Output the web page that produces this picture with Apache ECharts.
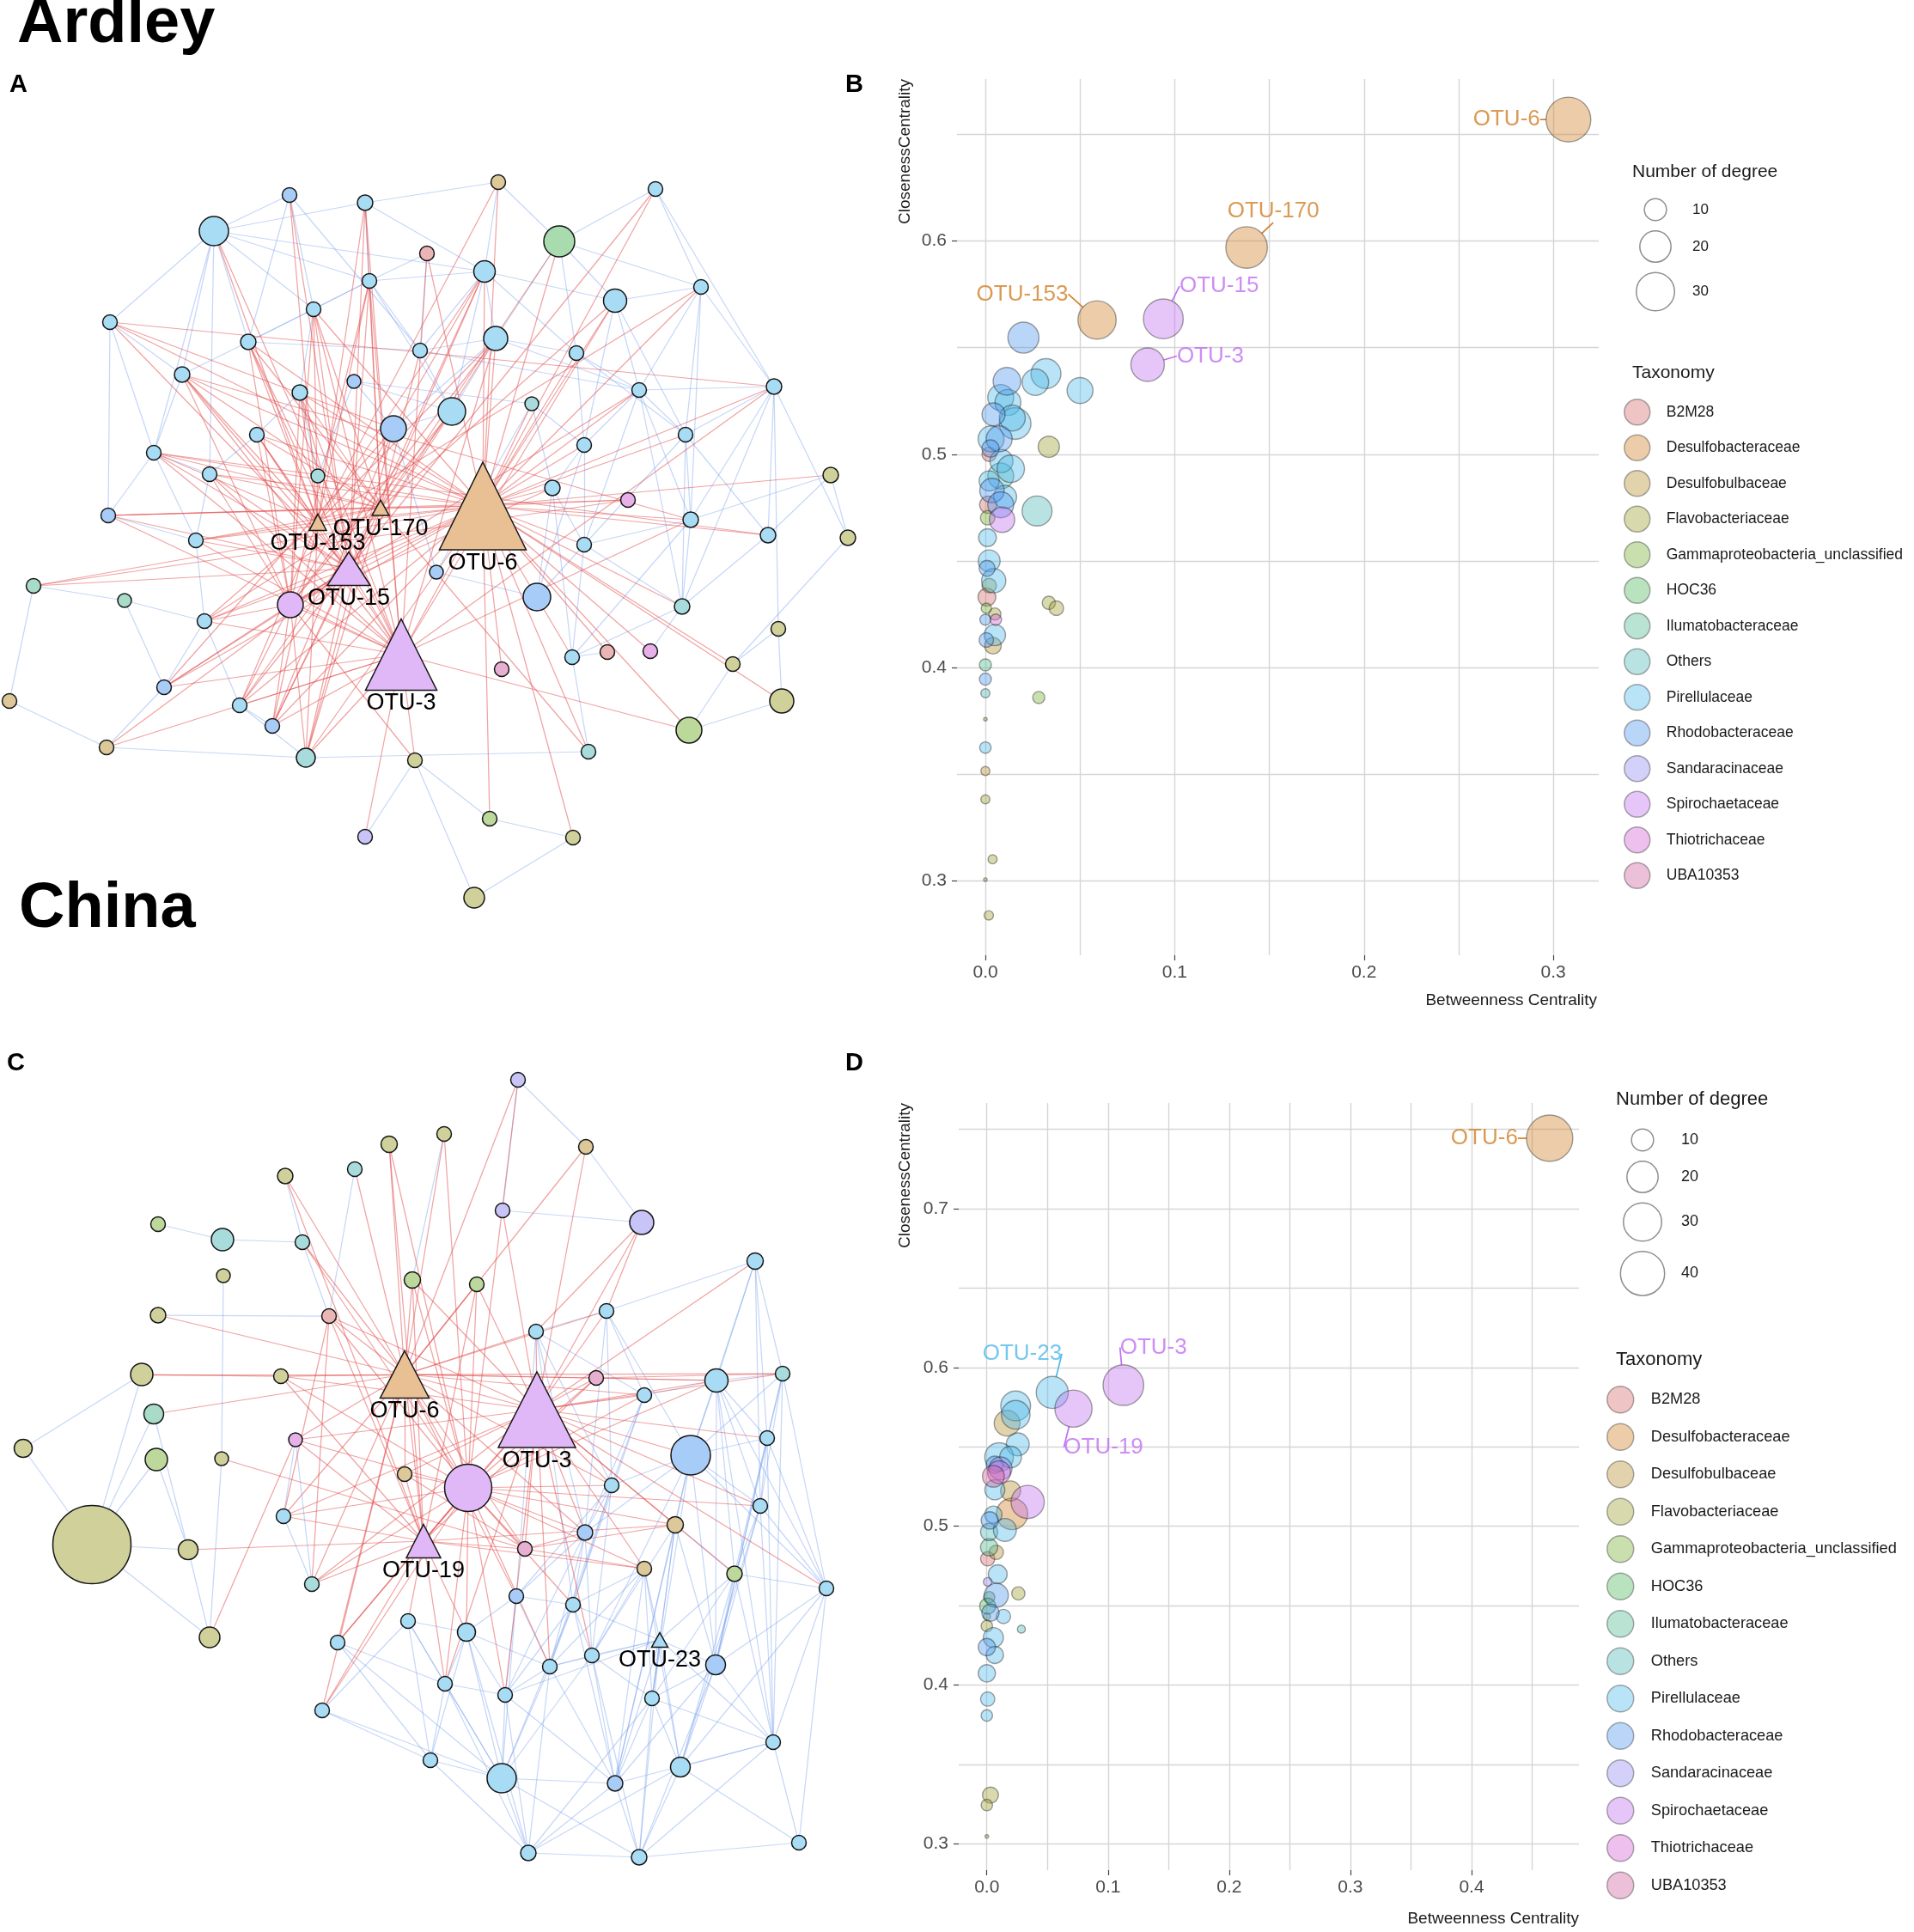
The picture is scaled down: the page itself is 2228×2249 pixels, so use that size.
<!DOCTYPE html>
<html>
<head>
<meta charset="utf-8">
<title>Ardley / China co-occurrence networks</title>
<script src="https://cdn.jsdelivr.net/npm/echarts@6/dist/echarts.min.js"></script>
<style>
  html, body { margin: 0; padding: 0; background: #fff; }
  #chart { width: 2228px; height: 2249px; }
</style>
</head>
<body>
<div id="chart"></div>
<script>
const FONT = 'Liberation Sans, Arial, Helvetica, sans-serif'

// taxonomy levels and their base colours
const taxa = ['B2M28', 'Desulfobacteraceae', 'Desulfobulbaceae', 'Flavobacteriaceae',
  'Gammaproteobacteria_unclassified', 'HOC36', 'Ilumatobacteraceae', 'Others', 'Pirellulaceae',
  'Rhodobacteraceae', 'Sandaracinaceae', 'Spirochaetaceae', 'Thiotrichaceae', 'UBA10353']
const taxaBase = ['#D76B6B', '#D18129', '#B99131', '#A1A135', '#79B135', '#51B95D', '#51B991',
  '#51B9B9', '#51B9E9', '#5199F1', '#9189F1', '#C171F1', '#D161D1', '#D161A1']

// ---- network A (Ardley): layout positions, node sizes, taxonomy ----
const aNodeX = [580, 763, 337, 425, 249, 651, 497, 564, 430, 816, 716, 365, 128, 289, 577, 489, 671, 212, 412, 349,
  744, 901, 619, 526, 458, 299, 798, 179, 680, 244, 370, 967, 643, 731, 126, 804, 894, 987, 228, 680,
  508, 39, 145, 338, 625, 794, 238, 906, 666, 707, 757, 853, 584, 191, 11, 910, 279, 317, 802, 124,
  356, 483, 685, 570, 425, 667, 552]
const aNodeY = [212, 220, 227, 236, 269, 281, 295, 316, 327, 334, 350, 360, 375, 398, 394, 408, 411, 436, 444, 457,
  454, 450, 470, 479, 499, 506, 506, 527, 518, 552, 554, 553, 568, 582, 600, 605, 623, 626, 629, 634,
  666, 682, 699, 704, 695, 706, 723, 732, 765, 759, 758, 773, 779, 800, 816, 816, 821, 845, 850, 870,
  882, 885, 875, 953, 974, 975, 1045]
const aNodeSize = [17, 17, 17, 18, 34, 36, 17, 25, 17, 17, 27, 17, 17, 18, 28, 17, 17, 18, 16, 18,
  17, 18, 16, 32, 30, 17, 17, 17, 17, 17, 16, 18, 18, 17, 17, 18, 18, 18, 17, 17,
  16, 17, 16, 30, 32, 18, 17, 17, 17, 17, 17, 17, 17, 17, 17, 28, 17, 17, 30, 17,
  22, 17, 17, 17, 17, 17, 24]
const aNodeTaxon = [2, 8, 9, 8, 8, 5, 0, 8, 8, 8, 8, 8, 8, 8, 8, 8, 8, 8, 9, 8,
  8, 8, 7, 8, 9, 8, 8, 8, 8, 8, 7, 3, 8, 12, 9, 8, 8, 3, 8, 8,
  9, 6, 6, 11, 9, 7, 8, 3, 8, 0, 12, 3, 13, 9, 2, 3, 8, 9, 4, 2,
  7, 3, 7, 4, 10, 3, 3]
const aHubName = ['OTU-6', 'OTU-170', 'OTU-153', 'OTU-15', 'OTU-3']
const aHubX = [562, 443, 370, 406, 467]
const aHubY = [589, 591, 608, 662, 762]
const aHubW = [101, 20, 20, 50, 83]
const aHubH = [102, 18, 19, 39, 83]
const aHubTaxon = [1, 1, 1, 11, 11]
// positive (red) edges as stars: [centre, neighbours]
const aRedStars = [
  ['OTU-6', [1, 2, 6, 7, 8, 10, 11, 12, 13, 14, 15, 17, 18, 20, 21, 22, 23, 26, 27, 28, 29, 30, 32, 33, 34, 35, 36, 37, 39, 40,
    42, 44, 46, 47, 49, 50, 51, 52, 53, 54, 56, 57, 58, 59, 61, 63, 64, 66]],
  ['OTU-3', [4, 5, 7, 9, 11, 12, 14, 15, 18, 20, 22, 26, 28, 30, 35, 36, 39, 47, 54, 57, 58, 59, 60, 61, 62, 65]],
  ['OTU-15', [2, 3, 4, 8, 9, 12, 13, 14, 15, 18, 20, 24, 26, 28, 30, 35, 39, 42, 47, 54, 57, 58, 60, 61]],
  ['OTU-170', [4, 6, 8, 9, 11, 12, 14, 16, 18, 20, 24, 26, 28, 30, 35, 39, 47, 57, 58, 61, 63]],
  ['OTU-153', [1, 3, 4, 5, 8, 9, 10, 12, 14, 15, 18, 20, 26, 28, 39, 47, 57, 58, 61]],
  [44, [8, 9, 12, 14, 15, 18, 20, 21, 24, 26, 30, 33, 47, 54, 57, 58, 61, 62]],
  [25, [54, 58, 61, 13]]
]
const aRedPairs = [['OTU-6', 'OTU-3'], ['OTU-6', 'OTU-15'], ['OTU-6', 'OTU-170'], ['OTU-6', 'OTU-153'],
  ['OTU-3', 'OTU-15'], ['OTU-170', 'OTU-153'], ['OTU-15', 44], ['OTU-3', 44],
  [35, 34], [42, 34], [28, 37], [18, 36], [13, 22]]
const aBlueStars = []
const aBluePairs = [[5, 13], [5, 14], [5, 9], [5, 8], [5, 28], [5, 30], [5, 18], [5, 4], [5, 12], [4, 9], [4, 8], [4, 1],
  [3, 12], [3, 16], [3, 5], [3, 14], [1, 6], [1, 8], [2, 6], [2, 10], [6, 11], [6, 10], [6, 17], [6, 15], [7, 9], [7, 16],
  [8, 9], [8, 15], [8, 16], [8, 17], [8, 11], [8, 24], [9, 16], [9, 12], [9, 14], [9, 24], [12, 14], [12, 20],
  [14, 18], [14, 16], [15, 16], [15, 17], [15, 21], [15, 24], [15, 25], [16, 21], [16, 24], [17, 21], [17, 29], [17, 27],
  [11, 21], [11, 27], [11, 29], [11, 10], [10, 21], [10, 22], [10, 27], [21, 27], [21, 22], [21, 36], [21, 40], [21, 46],
  [22, 27], [22, 37], [22, 36], [22, 46], [27, 40], [27, 37], [27, 46], [27, 36], [29, 33], [29, 40], [29, 21], [33, 40],
  [33, 23], [23, 29], [36, 40], [40, 46], [37, 46], [36, 46], [40, 49], [33, 49], [36, 49], [46, 49], [32, 38], [38, 22],
  [38, 52], [52, 48], [52, 59], [59, 56], [48, 56], [32, 37], [32, 36], [13, 18], [13, 28], [13, 35], [18, 28], [28, 39],
  [28, 35], [28, 30], [30, 39], [35, 39], [39, 47], [47, 54], [47, 57], [54, 60], [60, 55], [55, 42], [42, 43], [43, 47],
  [43, 54], [60, 61], [61, 63], [57, 61], [57, 58], [62, 67], [67, 66], [64, 66], [62, 64], [62, 65], [63, 49], [50, 49],
  [51, 46], [23, 19], [19, 24], [25, 19], [26, 30], [26, 20], [20, 31], [31, 19], [41, 45], [41, 23], [45, 29], [45, 33],
  [45, 40], [25, 24], [25, 41], [2, 22], [10, 36], [22, 48]]

// ---- network C (China) ----
const cNodeX = [603, 453, 517, 682, 332, 413, 184, 259, 352, 585, 747, 260, 480, 555, 879, 184, 383, 706, 624, 165,
  327, 694, 750, 834, 911, 179, 27, 182, 258, 344, 471, 545, 804, 893, 712, 885, 330, 107, 219, 681,
  611, 786, 750, 855, 363, 962, 601, 667, 244, 475, 543, 393, 689, 640, 833, 518, 588, 759, 375, 900,
  501, 584, 716, 792, 615, 744, 930]
const cNodeY = [1257, 1332, 1320, 1335, 1369, 1361, 1425, 1443, 1446, 1409, 1423, 1485, 1490, 1495, 1468, 1531, 1532, 1526, 1550, 1600,
  1602, 1604, 1624, 1607, 1599, 1646, 1686, 1699, 1698, 1676, 1716, 1732, 1694, 1674, 1729, 1753, 1765, 1798, 1804, 1784,
  1803, 1775, 1826, 1832, 1844, 1849, 1858, 1868, 1906, 1887, 1900, 1912, 1927, 1940, 1938, 1960, 1973, 1977, 1991, 2028,
  2049, 2070, 2076, 2057, 2157, 2162, 2145]
const cNodeSize = [17, 19, 17, 17, 18, 17, 17, 26, 17, 17, 28, 16, 19, 17, 19, 18, 17, 17, 17, 26,
  17, 17, 17, 27, 17, 23, 21, 26, 16, 16, 17, 55, 46, 17, 17, 17, 17, 91, 23, 18,
  17, 19, 17, 18, 17, 17, 17, 17, 24, 17, 21, 17, 17, 17, 23, 17, 17, 17, 17, 17,
  17, 34, 18, 23, 18, 18, 17]
const cNodeTaxon = [10, 3, 3, 2, 3, 7, 4, 7, 7, 10, 10, 3, 4, 4, 8, 3, 0, 8, 8, 3,
  3, 13, 8, 8, 7, 6, 3, 4, 3, 12, 2, 11, 9, 8, 8, 8, 8, 3, 3, 9,
  13, 2, 2, 4, 7, 8, 9, 8, 3, 8, 8, 8, 8, 8, 9, 8, 8, 8, 8, 8,
  8, 8, 9, 8, 8, 8, 8]
const cHubName = ['OTU-6', 'OTU-3', 'OTU-19', 'OTU-23']
const cHubX = [471, 625, 493, 768]
const cHubY = [1600, 1641, 1794, 1909]
const cHubW = [57, 90, 40, 19]
const cHubH = [55, 88, 39, 17]
const cHubTaxon = [1, 11, 11, 8]
const cRedStars = [
  ['OTU-6', [1, 2, 3, 4, 5, 6, 9, 13, 14, 16, 17, 18, 19, 20, 21, 22, 23, 24, 25, 26, 30, 31, 35, 37, 40, 41, 45, 47, 52, 59]],
  ['OTU-3', [4, 10, 11, 13, 14, 15, 17, 18, 19, 21, 22, 23, 24, 25, 30, 31, 33, 34, 35, 36, 37, 40, 41, 42, 43, 44, 45, 46, 53, 54, 56, 57]],
  ['OTU-19', [2, 5, 13, 14, 17, 21, 22, 30, 31, 37, 39, 41, 42, 43, 45, 50, 51, 52, 56, 59]],
  [32, [1, 2, 3, 9, 13, 14, 17, 21, 22, 23, 24, 30, 31, 35, 36, 37, 40, 41, 42, 43, 45, 48, 51, 52, 54, 56, 57, 59]],
  [41, [29, 31, 42, 43, 40]],
  [11, [18, 19]],
  [22, [24, 25]],
  [17, [37, 45]],
  [49, [30]],
  [20, [21]]
]
const cRedPairs = [['OTU-6', 'OTU-3'], ['OTU-6', 32], ['OTU-3', 32], ['OTU-19', 32], ['OTU-6', 'OTU-19'], ['OTU-3', 'OTU-19']]
const cBlueStars = [['OTU-23', [42, 43, 44, 48, 53, 54, 55, 57, 58, 60, 63, 64, 66]]]
const cBluePairs = [[38, 27], [38, 20], [38, 26], [38, 28], [38, 39], [38, 49], [27, 20], [7, 8], [12, 29], [29, 49],
  [16, 17], [26, 39], [28, 39], [39, 49], [1, 10], [1, 4], [4, 11], [10, 11], [3, 13], [6, 17], [9, 17], [30, 45],
  [5, 9], [8, 9], [24, 33], [24, 25], [24, 34], [24, 23], [24, 15], [25, 33], [25, 34], [25, 46], [25, 36], [15, 25],
  [15, 18], [18, 23], [18, 33], [18, 35], [19, 35], [33, 35], [33, 36], [33, 40], [33, 42], [33, 46], [33, 55], [33, 58],
  [34, 46], [34, 36], [36, 46], [36, 55], [46, 55], [46, 60], [46, 44], [42, 53], [42, 58], [42, 55], [43, 58], [43, 53],
  [40, 48], [40, 53], [40, 47], [47, 54], [47, 51], [48, 54], [48, 53], [50, 56], [50, 61], [51, 56], [51, 57], [51, 62],
  [52, 56], [53, 54], [54, 57], [54, 62], [55, 60], [55, 64], [56, 62], [56, 61], [57, 62], [57, 63], [58, 63], [58, 64],
  [58, 60], [59, 61], [60, 64], [60, 67], [61, 62], [61, 65], [62, 65], [62, 63], [62, 66], [63, 65], [63, 66], [64, 66],
  [65, 66], [66, 67], [64, 67], [62, 48], [62, 53], [63, 53], [65, 57], [66, 58], [59, 50], [35, 40], [35, 48], [44, 55],
  [44, 60], [36, 60], [50, 51], [51, 54], [56, 57], [47, 48], [19, 23], [23, 35], [18, 19], [52, 61], [37, 45], [30, 37],
  [15, 34], [15, 33], [34, 33], [19, 40], [35, 47], [42, 44], [43, 48],
  [15, 36], [24, 36], [24, 46], [24, 55], [24, 60], [24, 44], [25, 55], [25, 60], [34, 55], [34, 60], [34, 44], [36, 44],
  [36, 64], [46, 64], [46, 67], [44, 64], [44, 58], [55, 58], [55, 63], [55, 66], [60, 66], [60, 63], [64, 65], [58, 65],
  [53, 58], [53, 66], [54, 63], [54, 65], [48, 57], [48, 63], [47, 57], [47, 62], [50, 62], [51, 61], [51, 65], [52, 62],
  [56, 65], [59, 62], [40, 54], [40, 57], [35, 53], [35, 54], [23, 40], [23, 48], [19, 47], [19, 48], [18, 40], [33, 53],
  [33, 63], [42, 63], [43, 63], [43, 64], [43, 54]]

// ---- scatter B (Ardley centrality) ----
const bBetween = [0.308, 0.138, 0.059, 0.094, 0.0857, 0.0201, 0.032, 0.0264, 0.0114, 0.050,
  0.0081, 0.0119, 0.0043, 0.0157, 0.0142, 0.003, 0.0073, 0.002, 0.0027, 0.0085,
  0.0134, 0.0081, 0.002, 0.0035, 0.0104, 0.0081, 0.0015, 0.0012, 0.0088, 0.0273,
  0.0335, 0.0011, 0.002, 0.0009, 0.0044, 0.002, 0.0008, 0.0005, 0.005, 0.0055,
  0.0, 0.005, 0.0005, 0.004, 0.0335, 0.0375, 0.0, 0.0, 0.0, 0.0282,
  0.0, 0.0, 0.0, 0.0, 0.0038, 0.0, 0.0018]
const bCloseness = [0.657, 0.597, 0.563, 0.5635, 0.542, 0.5547, 0.5378, 0.5338, 0.5342, 0.5299,
  0.5266, 0.5243, 0.5187, 0.5144, 0.517, 0.5072, 0.5072, 0.500, 0.5027, 0.4968,
  0.4932, 0.4898, 0.4875, 0.483, 0.480, 0.4763, 0.4763, 0.4702, 0.4693, 0.4734,
  0.5035, 0.4609, 0.450, 0.4465, 0.4407, 0.4384, 0.433, 0.4278, 0.4251, 0.4224,
  0.4224, 0.4152, 0.4129, 0.4102, 0.4303, 0.4278, 0.4012, 0.3945, 0.3879, 0.3859,
  0.3757, 0.3624, 0.3514, 0.3381, 0.310, 0.3005, 0.2837]
const bDegree = [41, 35.5, 30, 32.5, 23, 19.8, 18.4, 14.4, 15.7, 13.8,
  13.8, 13.8, 10.9, 20.6, 13.8, 13.8, 13.8, 4.3, 6.1, 10.9,
  15.4, 13.8, 8.3, 12.3, 10.9, 13.8, 6.1, 4.3, 13.2, 18.4,
  9.3, 6.5, 9.8, 5.2, 12, 4.3, 6.5, 2.2, 3, 2.7,
  2.5, 9.3, 4.3, 5.7, 3.6, 4.3, 3, 3, 1.7, 3,
  0.25, 2.7, 1.7, 1.7, 1.7, 0.25, 1.8]
const bTaxon = [1, 1, 1, 11, 11, 9, 8, 8, 9, 8, 8, 8, 9, 8, 8, 8, 9, 0, 9, 8,
  8, 7, 8, 9, 8, 9, 0, 4, 11, 7, 3, 8, 8, 9, 8, 3, 0, 4, 3, 12,
  9, 8, 9, 2, 3, 3, 6, 9, 7, 4, 3, 8, 2, 3, 3, 3, 3]
const bName = ['OTU-6', 'OTU-170', 'OTU-153', 'OTU-15', 'OTU-3']
const bXTicks = [0, 0.1, 0.2, 0.3]
const bYTicks = [0.3, 0.4, 0.5, 0.6]

// ---- scatter D (China centrality) ----
const dBetween = [0.4644, 0.1127, 0.054, 0.0715, 0.0238, 0.0238, 0.0167, 0.0255, 0.0101, 0.0196,
  0.0066, 0.0113, 0.0054, 0.0101, 0.0066, 0.0196, 0.0337, 0.0208, 0.0149, 0.0054,
  0.0024, 0.0019, 0.0019, 0.0078, 0.0007, 0.009, 0.0007, 0.0078, 0.0019, 0.0007,
  0.0137, 0.0, 0.003, 0.0, 0.0054, 0.0, 0.0066, 0.026, 0.0285, 0.0,
  0.0007, 0.0, 0.003, 0.0, 0.0]
const dCloseness = [0.7444, 0.5889, 0.5843, 0.5741, 0.5758, 0.5702, 0.5649, 0.5516, 0.5436, 0.5436,
  0.5388, 0.5364, 0.5315, 0.534, 0.523, 0.5223, 0.5153, 0.5078, 0.4977, 0.5073,
  0.5037, 0.4964, 0.4868, 0.4836, 0.4795, 0.4698, 0.465, 0.4565, 0.4553, 0.4497,
  0.4432, 0.4432, 0.4456, 0.4372, 0.4299, 0.4239, 0.419, 0.4577, 0.4352, 0.4074,
  0.3912, 0.3808, 0.3307, 0.3244, 0.3046]
const dDegree = [44, 33.9, 21.1, 28.4, 18.2, 16.8, 13.6, 10.8, 16.8, 9.7,
  6.1, 10.8, 9.7, 10.8, 8.2, 8.2, 22.6, 20.3, 10.8, 6.1,
  6.1, 6.1, 6.1, 4.2, 4.2, 7.3, 1.5, 11.9, 2.7, 5.3,
  4.2, 1.05, 6.1, 2.7, 8.2, 6.1, 6.1, 3.6, 1.3, 6.1,
  4.2, 2.7, 5.3, 2.7, 0.25]
const dTaxon = [1, 11, 8, 11, 8, 8, 2, 8, 8, 8, 9, 10, 13, 12, 8, 2, 11, 1, 8, 8,
  9, 7, 6, 2, 0, 8, 10, 9, 4, 5, 8, 4, 9, 3, 8, 9, 8, 3, 7, 8,
  8, 8, 3, 3, 3]
const dName = ['OTU-6', 'OTU-3', 'OTU-23', 'OTU-19']
const dXTicks = [0, 0.1, 0.2, 0.3, 0.4]
const dYTicks = [0.3, 0.4, 0.5, 0.6, 0.7]

const bSizeBreaks = [10, 20, 30]
const dSizeBreaks = [10, 20, 30, 40]

// ---- styles ----
const RED_EDGE = 'rgba(226, 72, 72, 0.5)'
const BLUE_EDGE = 'rgba(120, 160, 235, 0.42)'
const GRID_LINE = '#d5d5d5'
// label offsets (px) of the repelled OTU labels
const labelOffset = {
  B: { 'OTU-6': [-72, 0], 'OTU-170': [31, -42], 'OTU-153': [-87, -30], 'OTU-15': [65, -38], 'OTU-3': [73, -10] },
  D: { 'OTU-6': [-76, 0], 'OTU-3': [35, -44], 'OTU-23': [-35, -45], 'OTU-19': [35, 45] }
}

function hexRgb (h) {
  return [parseInt(h.slice(1, 3), 16), parseInt(h.slice(3, 5), 16), parseInt(h.slice(5, 7), 16)]
}
function tint (h, a) {
  return 'rgb(' + hexRgb(h).map(v => Math.round(v * a + 255 * (1 - a))).join(',') + ')'
}
function alpha (h, a) {
  return 'rgba(' + hexRgb(h).join(',') + ',' + a + ')'
}
// point diameter from degree (area proportional to degree)
function degSize (d) {
  return 8.13 * Math.sqrt(d)
}

function networkSeries (xs, ys, sizes, taxon, hubName, hubX, hubY, hubW, hubH, hubTaxon, redStars, redPairs, blueStars, bluePairs) {
  const key = v => typeof v === 'number' ? 'n' + v : v
  const nodes = xs.map((x, i) => ({
    name: 'n' + (i + 1),
    value: [x, ys[i]],
    symbol: 'circle',
    symbolSize: sizes[i],
    itemStyle: { color: tint(taxaBase[taxon[i]], 0.5) }
  }))
  hubName.forEach((n, i) => {
    nodes.push({
      name: n,
      value: [hubX[i], hubY[i]],
      symbol: 'triangle',
      symbolSize: [hubW[i], hubH[i]],
      itemStyle: { color: tint(taxaBase[hubTaxon[i]], 0.5) },
      label: {
        show: true,
        position: 'bottom',
        distance: 1,
        formatter: n,
        color: '#000',
        fontSize: 27,
        fontFamily: FONT
      }
    })
  })
  let links = []
  const addStars = (stars, color) => {
    stars.forEach(s => {
      s[1].forEach(t => links.push({ source: key(s[0]), target: key(t), lineStyle: { color: color } }))
    })
  }
  const addPairs = (pairs, color) => {
    pairs.forEach(p => links.push({ source: key(p[0]), target: key(p[1]), lineStyle: { color: color } }))
  }
  addStars(blueStars, BLUE_EDGE)
  addPairs(bluePairs, BLUE_EDGE)
  addStars(redStars, RED_EDGE)
  addPairs(redPairs, RED_EDGE)
  return {
    type: 'graph',
    coordinateSystem: 'cartesian2d',
    xAxisIndex: 0,
    yAxisIndex: 0,
    data: nodes,
    links: links,
    edgeSymbol: ['none', 'none'],
    itemStyle: { borderColor: '#151515', borderWidth: 1.5 },
    lineStyle: { width: 1.25, opacity: 1, curveness: 0 },
    label: { show: false },
    emphasis: { disabled: true },
    silent: true,
    z: 2
  }
}

function scatterSeries (axisIdx, xs, ys, degs, taxon, names, offsets) {
  return taxa.map((t, ti) => {
    let data = []
    xs.forEach((x, i) => {
      if (taxon[i] !== ti) return
      const name = names[i] || ''
      const item = { value: [x, ys[i], degs[i]], name: name }
      if (name) {
        item.label = {
          show: true,
          position: 'inside',
          formatter: name,
          color: taxaBase[ti],
          fontSize: 26,
          fontFamily: FONT
        }
        item.labelLine = { show: true, length2: 0, minTurnAngle: 0, lineStyle: { color: taxaBase[ti], width: 1.7 } }
      }
      data.push(item)
    })
    return {
      type: 'scatter',
      name: t,
      xAxisIndex: axisIdx,
      yAxisIndex: axisIdx,
      data: data,
      symbolSize: v => degSize(v[2]),
      itemStyle: { color: alpha(taxaBase[ti], 0.5), borderColor: 'rgba(25,25,25,0.5)', borderWidth: 1.4 },
      label: { show: false },
      labelLine: { show: false },
      // move the OTU labels away from their points like ggrepel does
      labelLayout: p => {
        const o = offsets[p.text]
        return o ? { dx: o[0], dy: o[1] } : {}
      },
      emphasis: { disabled: true },
      silent: true,
      clip: false,
      z: 3
    }
  })
}

// one scatter panel: a data grid plus helper grids for grid lines and tick labels
function scatterPanel (box, xr, yr, vLines, hLines, xTicks, yTicks) {
  const px = v => box.left + (v - xr[0]) / (xr[1] - xr[0]) * box.width
  const py = v => box.top + (yr[1] - v) / (yr[1] - yr[0]) * box.height
  const hidden = g => ({ type: 'value', gridIndex: g, show: false, min: 0, max: 1 })
  const grids = []
  const xAxes = []
  const yAxes = []
  const base = 1 + (panelCount++) * 5
  // data
  grids.push({ left: box.left, top: box.top, width: box.width, height: box.height })
  xAxes.push({ type: 'value', gridIndex: base, show: false, min: xr[0], max: xr[1] })
  yAxes.push({ type: 'value', gridIndex: base, show: false, min: yr[0], max: yr[1] })
  // vertical grid lines
  grids.push({ left: px(vLines[0]), top: box.top, width: px(vLines[1]) - px(vLines[0]), height: box.height })
  xAxes.push({
    type: 'value', gridIndex: base + 1, min: vLines[0], max: vLines[1], interval: 0.05,
    axisLine: { show: false }, axisTick: { show: false }, axisLabel: { show: false },
    splitLine: { show: true, lineStyle: { color: GRID_LINE, width: 1.4 } }
  })
  yAxes.push(hidden(base + 1))
  // horizontal grid lines
  grids.push({ left: box.left, top: py(hLines[1]), width: box.width, height: py(hLines[0]) - py(hLines[1]) })
  xAxes.push(hidden(base + 2))
  yAxes.push({
    type: 'value', gridIndex: base + 2, min: hLines[0], max: hLines[1], interval: 0.05,
    axisLine: { show: false }, axisTick: { show: false }, axisLabel: { show: false },
    splitLine: { show: true, lineStyle: { color: GRID_LINE, width: 1.4 } }
  })
  // x tick labels
  const x0 = xTicks[0]
  const x1 = xTicks[xTicks.length - 1]
  grids.push({ left: px(x0), top: box.top, width: px(x1) - px(x0), height: box.height })
  xAxes.push({
    type: 'value', gridIndex: base + 3, position: 'bottom', min: x0, max: x1, interval: xTicks[1] - xTicks[0],
    axisLine: { show: false },
    axisTick: { show: true, length: 6, lineStyle: { color: '#444', width: 1.2 } },
    axisLabel: { show: true, margin: 10, fontSize: 21, color: '#4d4d4d', fontFamily: FONT, formatter: v => v.toFixed(1) },
    splitLine: { show: false }
  })
  yAxes.push(hidden(base + 3))
  // y tick labels
  const y0 = yTicks[0]
  const y1 = yTicks[yTicks.length - 1]
  grids.push({ left: box.left, top: py(y1), width: box.width, height: py(y0) - py(y1) })
  xAxes.push(hidden(base + 4))
  yAxes.push({
    type: 'value', gridIndex: base + 4, position: 'left', min: y0, max: y1, interval: yTicks[1] - yTicks[0],
    axisLine: { show: false },
    axisTick: { show: true, length: 6, lineStyle: { color: '#444', width: 1.2 } },
    axisLabel: { show: true, margin: 12, fontSize: 21, color: '#4d4d4d', fontFamily: FONT, formatter: v => v.toFixed(1) },
    splitLine: { show: false }
  })
  return { grids, xAxes, yAxes, dataAxis: base }
}

function text (str, x, y, size, opts) {
  opts = opts || {}
  return {
    type: 'text',
    x: x,
    y: y,
    rotation: opts.rotation || 0,
    z: 20,
    style: {
      legacy: false,
      text: str,
      fontSize: size,
      fontWeight: opts.bold ? 'bold' : 'normal',
      fontFamily: FONT,
      fill: opts.color || '#000',
      textFill: opts.color || '#000',
      align: opts.align || 'left',
      textAlign: opts.align || 'left',
      verticalAlign: 'middle',
      textVerticalAlign: 'middle'
    }
  }
}

function sizeKey (breaks, cx, y0, labelX, fs) {
  let out = []
  let y = y0
  breaks.forEach((b, i) => {
    const d = degSize(b)
    if (i > 0) y += (degSize(breaks[i - 1]) + d) / 2 + 12
    out.push({
      type: 'circle',
      z: 20,
      shape: { cx: cx, cy: y, r: d / 2 },
      style: { fill: '#fff', stroke: '#8f8f8f', lineWidth: 1.5 }
    })
    out.push(text(String(b), labelX, y, fs, { color: '#1a1a1a' }))
  })
  return out
}

let panelCount = 0
const panelB = scatterPanel({ left: 1114, top: 92, width: 747, height: 1020 },
  [-0.015, 0.324], [0.265, 0.676], [0, 0.3], [0.3, 0.65], bXTicks, bYTicks)
const panelD = scatterPanel({ left: 1116, top: 1284, width: 722, height: 893 },
  [-0.0232, 0.4886], [0.2834, 0.7666], [0, 0.45], [0.3, 0.75], dXTicks, dYTicks)

const grids = [{ left: 0, top: 0, width: 1000, height: 2249 }].concat(panelB.grids, panelD.grids)
  .map(g => Object.assign({ outerBoundsMode: 'none', containLabel: false, show: false }, g))
const xAxes = [{ type: 'value', gridIndex: 0, show: false, min: 0, max: 1000 }].concat(panelB.xAxes, panelD.xAxes)
const yAxes = [{ type: 'value', gridIndex: 0, show: false, min: 0, max: 2249, inverse: true }].concat(panelB.yAxes, panelD.yAxes)

const series = [
  networkSeries(aNodeX, aNodeY, aNodeSize, aNodeTaxon, aHubName, aHubX, aHubY, aHubW, aHubH, aHubTaxon,
    aRedStars, aRedPairs, aBlueStars, aBluePairs),
  networkSeries(cNodeX, cNodeY, cNodeSize, cNodeTaxon, cHubName, cHubX, cHubY, cHubW, cHubH, cHubTaxon,
    cRedStars, cRedPairs, cBlueStars, cBluePairs)
].concat(
  scatterSeries(panelB.dataAxis, bBetween, bCloseness, bDegree, bTaxon, bName, labelOffset.B),
  scatterSeries(panelD.dataAxis, dBetween, dCloseness, dDegree, dTaxon, dName, labelOffset.D)
)

const legendCommon = {
  data: taxa,
  orient: 'vertical',
  icon: 'circle',
  selectedMode: false,
  padding: 0,
  symbolKeepAspect: true,
  itemStyle: { borderColor: 'rgba(25,25,25,0.45)', borderWidth: 1.5 }
}

const graphics = [
  text('Ardley', 20, 29, 74, { bold: true }),
  text('China', 22, 1059, 74, { bold: true }),
  text('A', 11, 99, 29, { bold: true }),
  text('B', 984, 99, 29, { bold: true }),
  text('C', 8, 1238, 29, { bold: true }),
  text('D', 984, 1238, 29, { bold: true }),
  // axis titles
  text('ClosenessCentrality', 1054, 92, 19, { rotation: Math.PI / 2, align: 'right', color: '#1a1a1a' }),
  text('Betweenness Centrality', 1859, 1165, 19, { align: 'right', color: '#1a1a1a' }),
  text('ClosenessCentrality', 1054, 1284, 19, { rotation: Math.PI / 2, align: 'right', color: '#1a1a1a' }),
  text('Betweenness Centrality', 1838, 2234, 19, { align: 'right', color: '#1a1a1a' }),
  // legend titles
  text('Number of degree', 1900, 200, 21, { color: '#1a1a1a' }),
  text('Taxonomy', 1900, 434, 21, { color: '#1a1a1a' }),
  text('Number of degree', 1881, 1280, 22, { color: '#1a1a1a' }),
  text('Taxonomy', 1881, 1583, 22, { color: '#1a1a1a' })
].concat(
  sizeKey(bSizeBreaks, 1927, 244, 1970, 17),
  sizeKey(dSizeBreaks, 1912, 1327, 1957, 18)
)

const chart = echarts.init(document.getElementById('chart'))
chart.setOption({
  animation: false,
  backgroundColor: '#ffffff',
  grid: grids,
  xAxis: xAxes,
  yAxis: yAxes,
  legend: [
    Object.assign({}, legendCommon, {
      left: 1890, top: 464, itemWidth: 58, itemHeight: 30, itemGap: 10,
      textStyle: { fontSize: 17.5, color: '#1a1a1a', fontFamily: FONT }
    }),
    Object.assign({}, legendCommon, {
      left: 1870, top: 1613, itemWidth: 61, itemHeight: 31, itemGap: 11,
      textStyle: { fontSize: 18.2, color: '#1a1a1a', fontFamily: FONT }
    })
  ],
  graphic: { elements: graphics },
  series: series
})
</script>
</body>
</html>
